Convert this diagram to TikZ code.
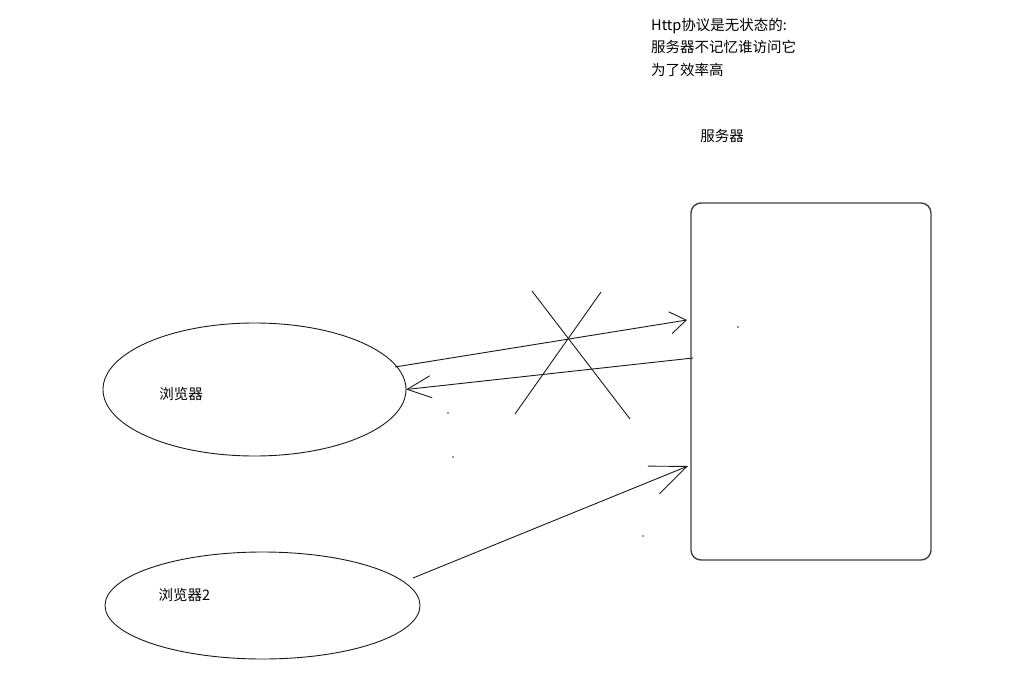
\documentclass[tikz,border=0pt]{standalone}
\usepackage{fontspec}
\setmainfont{Noto Sans CJK SC}
\usepackage{tikz}
\usetikzlibrary{shapes.geometric, arrows.meta, positioning, calc}

\begin{document}
\begin{tikzpicture}[x=1pt, y=-1pt,
    client/.style={ellipse, draw=black!90, line width=0.9pt, inner sep=0pt, outer sep=0pt},
    srv/.style={rectangle, draw=black!75, line width=1.4pt, rounded corners=10pt, minimum width=240pt, minimum height=357pt, inner sep=0pt, outer sep=0pt},
    txt/.style={inner sep=0pt, font=\fontsize{14.5}{22.5}\selectfont, text=black},
    line/.style={draw=black!90, line width=0.9pt},
    req/.style={line, -{Straight Barb[length=16pt, width=22pt]}},
    resp/.style={line, -{Straight Barb[length=24pt, width=22pt]}},
    req2/.style={line, -{Straight Barb[length=36pt, width=30pt]}}]

    \useasboundingbox (0,0) rectangle (1035,687);

    \node [client, minimum width=303pt, minimum height=133pt] (browser) at (254.5,389.5) {};
    \node [client, minimum width=315pt, minimum height=107pt] (browser2) at (262.5,605.5) {};
    \node [srv] (server) at (811,381.5) {};

    \node [txt] (l_browser) at (181,394) {浏览器};
    \node [txt] (l_browser2) at (184.5,595) {浏览器2};
    \node [txt, above=60pt of server.north west, xshift=31pt] (l_server) {服务器};
    \node [txt, anchor=north west, align=left] (note) at (651,18) {Http协议是无状态的:\\服务器不记忆谁访问它\\为了效率高};

    \path [req] ([xshift=-11pt, yshift=22.5pt]browser.east) -- ([xshift=-4pt, yshift=61.5pt]server.west);
    \path [resp] ([xshift=2pt, yshift=23.5pt]server.west) -- (browser.east);
    \path [req2] ([xshift=-7pt, yshift=27.5pt]browser2.east) -- ([xshift=-3pt, yshift=-84.5pt]server.west);

    % crossed out
    \draw [line] (532,291) -- (630,419);
    \draw [line] (601,292) -- (515,414);

    \foreach \p in {(738,327), (448,413), (453,457), (643,536)}
        \fill [black!80] \p circle (0.8pt);
\end{tikzpicture}
\end{document}
